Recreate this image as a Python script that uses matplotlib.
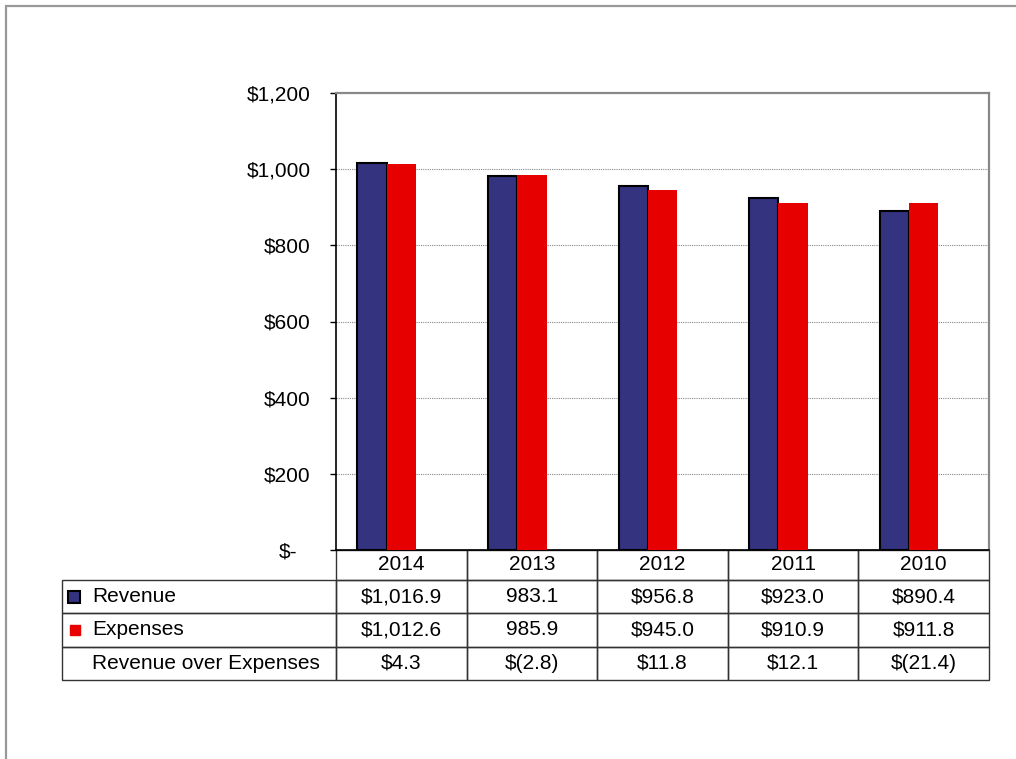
import matplotlib
matplotlib.use("Agg")
import matplotlib.pyplot as plt
import matplotlib.transforms as mtransforms
from matplotlib.patches import Rectangle
import numpy as np

years = ["2014", "2013", "2012", "2011", "2010"]
revenue = [1016.9, 983.1, 956.8, 923.0, 890.4]
expenses = [1012.6, 985.9, 945.0, 910.9, 911.8]
net = [4.3, -2.8, 11.8, 12.1, -21.4]

revenue_text = ["$1,016.9", "983.1", "$956.8", "$923.0", "$890.4"]
expenses_text = ["$1,012.6", "985.9", "$945.0", "$910.9", "$911.8"]


def money(v):
    if v < 0:
        return "$({:,.1f})".format(-v)
    return "${:,.1f}".format(v)


net_text = [money(v) for v in net]

rev_color = "#333380"
exp_color = "#E60000"

plt.rcParams["font.family"] = ["Liberation Sans", "DejaVu Sans"]
W, H = 1016, 759
fig = plt.figure(figsize=(W / 100, H / 100), dpi=100)

# outer chart frame
fig.patches.append(Rectangle((6 / W, -0.1), 1.2, 1 - 6 / H + 0.1,
                             transform=fig.transFigure, fill=False,
                             edgecolor="#999999", linewidth=1.6))

ax = fig.add_axes([336 / W, (H - 550) / H, 653 / W, 457 / H])

x = np.arange(len(years))
bw = 0.2245
ax.bar(x - bw, revenue, bw, color=rev_color, edgecolor="black", linewidth=1.5, zorder=3)
ax.bar(x, expenses, bw, color=exp_color, zorder=3)

ax.set_xlim(-0.5, len(years) - 0.5)
ax.set_ylim(0, 1200)
ax.set_xticks([])
ticks = list(range(0, 1201, 200))
ax.set_yticks(ticks)
ax.set_yticklabels(["$-"] + ["${:,}".format(t) for t in ticks[1:]], fontsize=15)
ax.tick_params(axis="y", length=4.3, width=1, pad=14, color="black")
lbl0 = ax.get_yticklabels()[0]
lbl0.set_transform(lbl0.get_transform() +
                   mtransforms.ScaledTranslation(-13 / 100, 0, fig.dpi_scale_trans))

for t in ticks[1:-1]:
    ax.axhline(t, color="#888888", linewidth=0.8, linestyle=(0, (1, 1)), zorder=1)

ax.spines["left"].set_color("black")
ax.spines["left"].set_linewidth(1.2)
ax.spines["bottom"].set_color("black")
ax.spines["bottom"].set_linewidth(1.2)
ax.spines["top"].set_color("#888888")
ax.spines["top"].set_linewidth(1.6)
ax.spines["right"].set_color("#888888")
ax.spines["right"].set_linewidth(1.6)

# data table under the plot area
left_w = 274
col_w = 653 / len(years)
total_w = left_w + 653
row_h = [30, 33.3, 33.3, 33.4]
cells = [[""] + years,
         ["Revenue"] + revenue_text,
         ["Expenses"] + expenses_text,
         ["Revenue over Expenses"] + net_text]
tbl = ax.table(cellText=cells,
               colWidths=[left_w / total_w] + [col_w / total_w] * len(years),
               cellLoc="center",
               bbox=[-left_w / 653, -130 / 457, total_w / 653, 130 / 457])
tbl.auto_set_font_size(False)
tbl.set_fontsize(15)
for (r, c), cell in tbl.get_celld().items():
    cell.set_height(row_h[r] / 130)
    cell.set_edgecolor("#333333")
    cell.set_linewidth(1)
    cell.set_facecolor("none")
    if c == 0:
        cell.PAD = 0.11
        cell.set_text_props(ha="left")
        cell._loc = "left"
    if r == 0 and c == 0:
        cell.visible_edges = ""

# legend keys in the table's first column
px = 1200 / 457
ax.plot([-0.5 - 262 / col_w], [-(30 + 16.5) * px], marker="s", markersize=8,
        color=rev_color, markeredgecolor="black", markeredgewidth=1.5,
        clip_on=False, linestyle="none")
ax.plot([-0.5 - 261 / col_w], [-(30 + 33 + 16.5) * px], marker="s", markersize=7.5,
        color=exp_color, clip_on=False, linestyle="none")

fig.savefig("out.png", dpi=100)
